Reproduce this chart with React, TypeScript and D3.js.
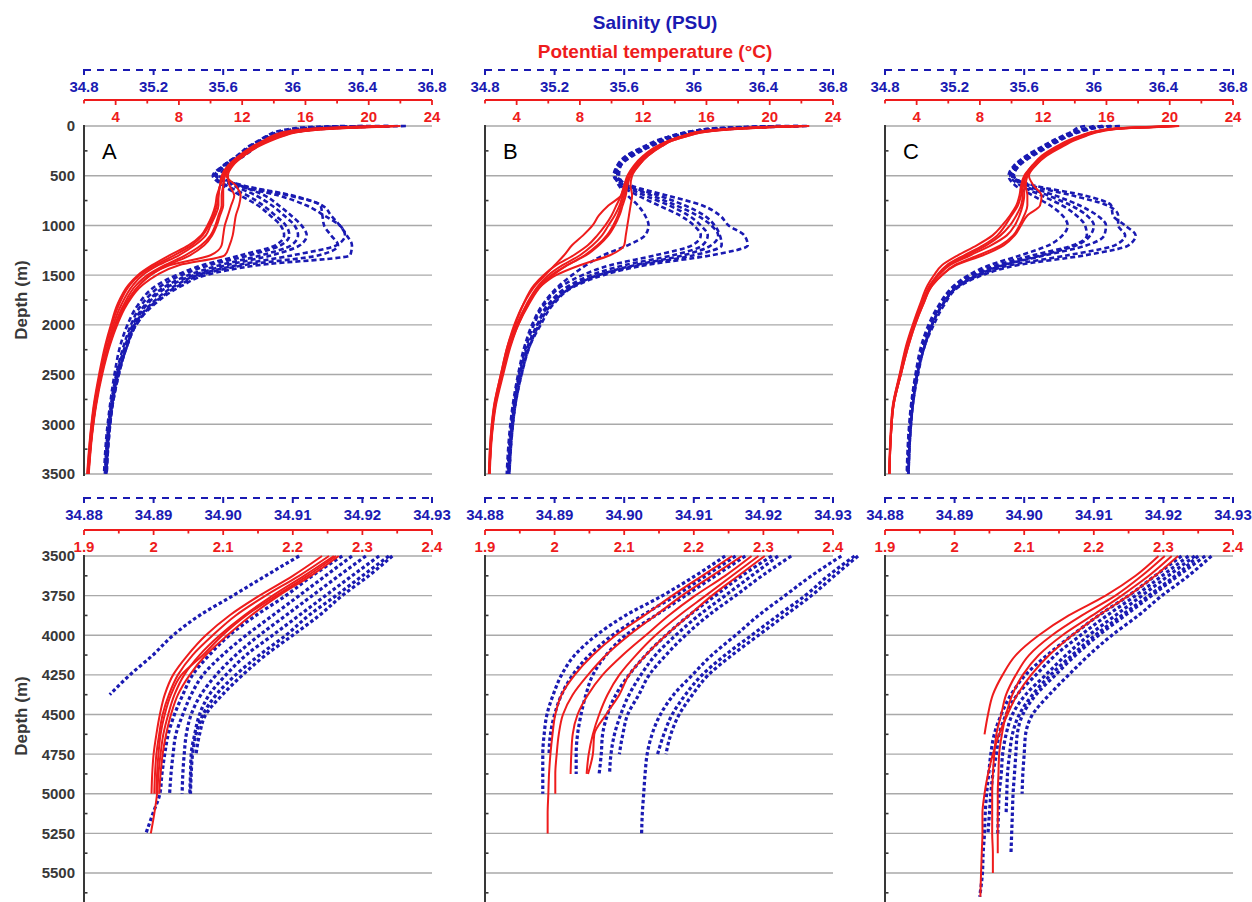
import React from "react";
import * as d3 from "d3";

// ---------------- DATA ----------------
// Upper panels (0-3500 m): shared depth grid (m)
const DEPTH_UPPER = [0, 10, 25, 50, 100, 150, 200, 300, 400, 500, 600, 700, 800, 900, 1000, 1100, 1200, 1300, 1400, 1500, 1600, 1800, 2000, 2200, 2500, 2800, 3100, 3500];
// Lower panels (3500 m - bottom): shared depth grid (m); profiles stop where the cast ended
const DEPTH_LOWER = [3500, 3625, 3750, 3875, 4000, 4125, 4250, 4375, 4500, 4625, 4750, 4875, 5000, 5125, 5250, 5375, 5500, 5650];

// Potential temperature (°C), upper panels
const THETA_A_UPPER = [
  [21.8, 20.2, 17.8, 15.9, 14.5, 13.7, 13.0, 12.0, 11.2, 10.8, 10.6, 10.5, 10.4, 10.2, 9.9, 9.5, 8.8, 7.7, 6.5, 5.5, 4.9, 4.2, 3.75, 3.4, 3.0, 2.65, 2.42, 2.22],
  [21.5, 19.6, 17.2, 15.5, 14.2, 13.4, 12.8, 11.9, 11.1, 10.7, 10.6, 10.5, 10.5, 10.3, 10.0, 9.7, 9.0, 8.0, 6.7, 5.7, 5.1, 4.35, 3.85, 3.5, 3.05, 2.7, 2.45, 2.25],
  [21.0, 19.0, 16.8, 15.3, 14.1, 13.5, 12.9, 12.0, 11.3, 10.9, 10.8, 10.7, 10.7, 10.5, 10.3, 10.0, 9.4, 8.4, 7.1, 6.0, 5.3, 4.5, 3.95, 3.55, 3.1, 2.72, 2.48, 2.27],
  [22.0, 20.5, 18.0, 16.0, 14.6, 13.8, 13.1, 12.1, 11.3, 10.9, 10.8, 10.8, 10.8, 10.6, 10.4, 10.1, 9.6, 8.7, 7.3, 6.2, 5.5, 4.6, 4.0, 3.6, 3.1, 2.75, 2.5, 2.28],
  [20.5, 18.5, 16.5, 15.0, 13.9, 13.3, 12.7, 11.8, 11.1, 10.8, 10.6, 10.4, 10.3, 10.1, 9.8, 9.4, 8.6, 7.4, 6.3, 5.4, 4.8, 4.1, 3.7, 3.35, 2.95, 2.62, 2.4, 2.2],
  [21.2, 19.8, 17.4, 15.6, 14.3, 13.5, 12.9, 12.0, 11.3, 11.0, 11.6, 11.9, 11.8, 11.6, 11.5, 11.4, 11.2, 10.9, 8.0, 6.6, 5.7, 4.7, 4.1, 3.65, 3.15, 2.78, 2.52, 2.3],
  [21.6, 20.0, 17.6, 15.8, 14.4, 13.6, 13.0, 12.1, 11.4, 11.1, 11.2, 11.5, 11.3, 11.1, 10.9, 10.8, 10.7, 10.0, 7.4, 6.2, 5.5, 4.6, 4.05, 3.6, 3.1, 2.75, 2.5, 2.28],
];
const THETA_B_UPPER = [
  [22.5, 20.5, 18.5, 16.4, 14.8, 13.8, 13.2, 12.3, 11.7, 11.2, 10.9, 10.7, 10.5, 10.2, 9.8, 9.4, 8.8, 8.0, 6.9, 6.0, 5.4, 4.6, 4.0, 3.55, 3.1, 2.65, 2.42, 2.28],
  [22.0, 20.0, 18.0, 16.0, 14.6, 13.6, 13.0, 12.1, 11.5, 11.1, 10.8, 10.6, 10.3, 10.0, 9.6, 9.1, 8.5, 7.6, 6.5, 5.7, 5.1, 4.4, 3.9, 3.45, 3.0, 2.6, 2.38, 2.25],
  [21.5, 19.5, 17.8, 15.9, 14.5, 13.6, 13.0, 12.2, 11.6, 11.2, 11.0, 10.9, 10.7, 10.5, 10.2, 9.8, 9.2, 8.4, 7.2, 6.2, 5.5, 4.7, 4.05, 3.6, 3.1, 2.65, 2.42, 2.28],
  [22.2, 20.2, 18.2, 16.1, 14.6, 13.6, 12.9, 12.0, 11.4, 11.0, 10.8, 10.6, 9.8, 9.2, 8.8, 8.2, 7.5, 7.0, 6.4, 5.8, 5.2, 4.4, 3.85, 3.45, 3.0, 2.58, 2.37, 2.24],
  [22.4, 20.3, 18.4, 16.3, 14.8, 13.8, 13.2, 12.3, 11.7, 11.3, 11.2, 11.3, 11.2, 11.1, 11.0, 10.9, 10.8, 9.9, 8.0, 6.5, 5.6, 4.7, 4.1, 3.6, 3.1, 2.66, 2.43, 2.28],
  [21.8, 19.8, 17.9, 15.9, 14.5, 13.6, 13.0, 12.1, 11.5, 11.1, 10.9, 10.8, 10.6, 10.4, 10.1, 9.7, 9.1, 8.3, 7.2, 6.3, 5.6, 4.75, 4.1, 3.65, 3.15, 2.7, 2.45, 2.3],
];
const THETA_C_UPPER = [
  [20.5, 19.2, 17.0, 15.7, 14.6, 13.8, 13.2, 12.1, 11.4, 10.9, 10.7, 10.6, 10.4, 10.0, 9.6, 9.1, 8.2, 7.0, 5.9, 5.3, 4.85, 4.3, 3.8, 3.4, 2.95, 2.52, 2.37, 2.27],
  [20.2, 18.8, 16.6, 15.5, 14.4, 13.6, 13.0, 12.0, 11.3, 10.9, 10.8, 10.8, 10.7, 10.5, 10.2, 9.7, 8.7, 7.4, 6.1, 5.4, 4.9, 4.35, 3.85, 3.45, 3.0, 2.55, 2.38, 2.28],
  [20.4, 19.0, 16.9, 15.6, 14.5, 13.7, 13.1, 12.1, 11.5, 11.0, 10.9, 11.0, 11.0, 10.8, 10.5, 10.1, 9.3, 7.9, 6.4, 5.6, 5.0, 4.4, 3.9, 3.5, 3.0, 2.55, 2.38, 2.28],
  [20.6, 19.3, 17.1, 15.8, 14.7, 13.9, 13.3, 12.2, 11.5, 11.1, 11.4, 11.9, 11.8, 11.0, 10.6, 10.2, 9.5, 8.2, 6.5, 5.6, 5.0, 4.4, 3.9, 3.5, 3.0, 2.55, 2.38, 2.28],
  [20.0, 18.5, 16.5, 15.4, 14.3, 13.5, 12.9, 11.9, 11.3, 10.8, 10.6, 10.5, 10.3, 9.9, 9.4, 8.8, 7.8, 6.6, 5.6, 5.1, 4.7, 4.2, 3.75, 3.35, 2.92, 2.5, 2.35, 2.26],
  [20.3, 18.9, 16.7, 15.5, 14.4, 13.7, 13.1, 12.1, 11.4, 10.9, 10.7, 10.7, 10.6, 10.3, 9.9, 9.3, 8.4, 7.2, 6.0, 5.35, 4.85, 4.3, 3.8, 3.4, 2.95, 2.52, 2.37, 2.27],
];

// Salinity (PSU), upper panels
const SAL_A_UPPER = [
  [36.55, 36.35, 36.15, 36.0, 35.88, 35.83, 35.78, 35.70, 35.61, 35.55, 35.62, 35.74, 35.83, 35.90, 35.96, 35.98, 35.93, 35.75, 35.52, 35.36, 35.25, 35.13, 35.07, 35.03, 34.985, 34.955, 34.935, 34.92],
  [36.45, 36.2, 36.05, 35.95, 35.86, 35.81, 35.76, 35.69, 35.60, 35.56, 35.66, 35.79, 35.88, 35.95, 36.01, 36.03, 35.99, 35.82, 35.58, 35.40, 35.28, 35.15, 35.08, 35.04, 34.99, 34.96, 34.94, 34.925],
  [36.65, 36.4, 36.2, 36.05, 35.91, 35.85, 35.8, 35.72, 35.63, 35.58, 35.70, 35.84, 35.92, 35.99, 36.05, 36.08, 36.04, 35.88, 35.62, 35.43, 35.30, 35.16, 35.09, 35.04, 34.99, 34.96, 34.94, 34.925],
  [36.3, 36.1, 36.0, 35.92, 35.85, 35.8, 35.75, 35.68, 35.60, 35.54, 35.60, 35.70, 35.80, 35.87, 35.93, 35.95, 35.90, 35.70, 35.48, 35.33, 35.22, 35.11, 35.05, 35.01, 34.975, 34.95, 34.93, 34.915],
  [36.5, 36.3, 36.12, 36.0, 35.88, 35.82, 35.77, 35.69, 35.6, 35.56, 35.72, 36.0, 36.17, 36.22, 36.27, 36.31, 36.34, 36.33, 35.8, 35.5, 35.37, 35.2, 35.1, 35.05, 35.0, 34.965, 34.945, 34.93],
  [36.55, 36.35, 36.15, 36.02, 35.89, 35.83, 35.78, 35.70, 35.61, 35.56, 35.68, 35.92, 36.08, 36.18, 36.27, 36.3, 36.25, 36.0, 35.68, 35.45, 35.33, 35.18, 35.09, 35.05, 34.995, 34.962, 34.942, 34.928],
  [36.4, 36.2, 36.05, 35.96, 35.86, 35.81, 35.76, 35.68, 35.6, 35.56, 35.7, 35.98, 36.16, 36.17, 36.18, 36.22, 36.26, 36.15, 35.72, 35.47, 35.35, 35.19, 35.1, 35.05, 35.0, 34.965, 34.945, 34.93],
];
const SAL_B_UPPER = [
  [36.6, 36.4, 36.2, 36.05, 35.9, 35.82, 35.75, 35.63, 35.57, 35.55, 35.58, 35.68, 35.80, 35.92, 36.0, 36.04, 35.99, 35.78, 35.52, 35.36, 35.25, 35.14, 35.08, 35.04, 34.995, 34.965, 34.945, 34.93],
  [36.5, 36.3, 36.1, 36.0, 35.87, 35.79, 35.73, 35.62, 35.56, 35.54, 35.60, 35.72, 35.86, 35.97, 36.04, 36.08, 36.05, 35.88, 35.60, 35.41, 35.29, 35.16, 35.1, 35.05, 35.0, 34.97, 34.95, 34.935],
  [36.65, 36.45, 36.25, 36.08, 35.92, 35.83, 35.76, 35.65, 35.58, 35.57, 35.62, 35.76, 35.90, 36.02, 36.1, 36.14, 36.1, 35.94, 35.66, 35.45, 35.32, 35.18, 35.11, 35.06, 35.01, 34.975, 34.955, 34.94],
  [36.55, 36.35, 36.15, 36.02, 35.89, 35.8, 35.74, 35.63, 35.57, 35.56, 35.64, 35.85, 36.05, 36.15, 36.2, 36.29, 36.31, 36.1, 35.72, 35.48, 35.33, 35.19, 35.12, 35.06, 35.01, 34.975, 34.955, 34.94],
  [36.5, 36.3, 36.12, 36.0, 35.87, 35.78, 35.72, 35.61, 35.56, 35.55, 35.57, 35.62, 35.68, 35.72, 35.74, 35.72, 35.62, 35.48, 35.38, 35.3, 35.23, 35.13, 35.07, 35.03, 34.99, 34.96, 34.94, 34.925],
  [36.6, 36.38, 36.18, 36.03, 35.89, 35.81, 35.75, 35.64, 35.58, 35.56, 35.62, 35.80, 35.95, 36.06, 36.12, 36.15, 36.16, 36.0, 35.68, 35.45, 35.31, 35.17, 35.1, 35.05, 35.0, 34.97, 34.95, 34.935],
];
const SAL_C_UPPER = [
  [36.0, 35.98, 35.95, 35.9, 35.83, 35.77, 35.72, 35.62, 35.55, 35.52, 35.58, 35.70, 35.82, 35.9, 35.95, 35.96, 35.88, 35.65, 35.44, 35.3, 35.21, 35.12, 35.06, 35.02, 34.98, 34.955, 34.94, 34.93],
  [36.1, 36.02, 35.98, 35.93, 35.85, 35.79, 35.74, 35.64, 35.57, 35.54, 35.62, 35.78, 35.92, 36.02, 36.07, 36.06, 35.96, 35.72, 35.48, 35.33, 35.23, 35.13, 35.07, 35.03, 34.985, 34.96, 34.945, 34.935],
  [35.95, 35.92, 35.9, 35.88, 35.82, 35.76, 35.71, 35.61, 35.54, 35.51, 35.55, 35.65, 35.75, 35.82, 35.85, 35.82, 35.74, 35.58, 35.40, 35.28, 35.2, 35.11, 35.05, 35.01, 34.975, 34.95, 34.935, 34.925],
  [36.05, 36.0, 35.97, 35.92, 35.84, 35.78, 35.73, 35.63, 35.56, 35.53, 35.66, 35.95, 36.1, 36.11, 36.18, 36.24, 36.2, 35.95, 35.56, 35.36, 35.24, 35.14, 35.08, 35.03, 34.99, 34.96, 34.945, 34.935],
  [36.15, 36.05, 36.0, 35.94, 35.86, 35.8, 35.75, 35.65, 35.57, 35.54, 35.64, 35.88, 36.08, 36.14, 36.14, 36.18, 36.12, 35.85, 35.52, 35.34, 35.23, 35.13, 35.07, 35.03, 34.985, 34.96, 34.945, 34.935],
  [36.05, 36.0, 35.96, 35.91, 35.84, 35.78, 35.73, 35.63, 35.56, 35.53, 35.6, 35.74, 35.87, 35.96, 36.0, 35.98, 35.9, 35.7, 35.47, 35.32, 35.22, 35.12, 35.065, 35.025, 34.98, 34.955, 34.94, 34.93],
];

// Potential temperature (°C), lower panels
const THETA_A_LOWER = [
  [2.242, 2.200, 2.152, 2.109, 2.075, 2.049, 2.028, 2.016, 2.009, 2.004, 2.000, 1.998, 1.997],
  [2.252, 2.209, 2.161, 2.118, 2.085, 2.056, 2.035, 2.022, 2.013, 2.008, 2.004, 2.002, 2.001],
  [2.259, 2.216, 2.171, 2.130, 2.095, 2.066, 2.044, 2.030, 2.021, 2.014, 2.010, 2.007, 2.005, 2.001, 1.996],
  [2.266, 2.226, 2.180, 2.140, 2.106, 2.075, 2.052, 2.035, 2.025, 2.018, 2.013, 2.010, 2.008],
  [2.262, 2.221, 2.176, 2.133, 2.099, 2.071, 2.040, 2.025, 2.016, 2.010, 2.007, 2.005, 2.004],
];
const THETA_B_LOWER = [
  [2.255, 2.212, 2.169, 2.129, 2.088, 2.055, 2.029, 2.010, 2.001, 1.997, 1.994, 1.992, 1.991, 1.990, 1.990],
  [2.269, 2.226, 2.183, 2.145, 2.107, 2.074, 2.048, 2.026, 2.012, 2.006, 2.003, 2.001, 2.001],
  [2.283, 2.245, 2.202, 2.164, 2.131, 2.098, 2.069, 2.048, 2.033, 2.026, 2.024, 2.023],
  [2.293, 2.255, 2.217, 2.179, 2.145, 2.117, 2.093, 2.076, 2.064, 2.055, 2.049, 2.046],
  [2.302, 2.264, 2.226, 2.193, 2.160, 2.131, 2.107, 2.093, 2.074, 2.057, 2.055, 2.048],
];
const THETA_C_LOWER = [
  [2.293, 2.260, 2.217, 2.164, 2.121, 2.088, 2.069, 2.055, 2.048, 2.043],
  [2.302, 2.269, 2.231, 2.183, 2.140, 2.107, 2.088, 2.074, 2.067, 2.060, 2.057, 2.055, 2.054, 2.054, 2.054, 2.055, 2.055],
  [2.312, 2.279, 2.240, 2.198, 2.155, 2.121, 2.098, 2.083, 2.074, 2.068, 2.064, 2.063, 2.062, 2.062, 2.062, 2.062],
  [2.321, 2.288, 2.250, 2.207, 2.169, 2.136, 2.110, 2.090, 2.076, 2.064, 2.055, 2.048, 2.043, 2.040, 2.040, 2.039, 2.038, 2.037],
];

// Salinity (PSU), lower panels
const SAL_A_LOWER = [
  [34.9109, 34.9061, 34.9014, 34.8966, 34.8928, 34.8899, 34.8866, 34.8837],
  [34.9171, 34.9128, 34.9090, 34.9047, 34.9009, 34.8980, 34.8956, 34.8942, 34.8930, 34.8921, 34.8916, 34.8912, 34.8909, 34.8899, 34.8889],
  [34.9185, 34.9147, 34.9109, 34.9071, 34.9033, 34.8999, 34.8971, 34.8954, 34.8942, 34.8932, 34.8928, 34.8925, 34.8923],
  [34.9205, 34.9166, 34.9128, 34.9090, 34.9052, 34.9018, 34.8990, 34.8968, 34.8954, 34.8947, 34.8944, 34.8942, 34.8941],
  [34.9224, 34.9185, 34.9147, 34.9109, 34.9071, 34.9033, 34.9004, 34.8980, 34.8966, 34.8959, 34.8954, 34.8953, 34.8952],
  [34.9238, 34.9200, 34.9162, 34.9123, 34.9090, 34.9052, 34.9018, 34.8990, 34.8971, 34.8961, 34.8956, 34.8954, 34.8953],
  [34.9243, 34.9209, 34.9171, 34.9138, 34.9100, 34.9061, 34.9028, 34.8999, 34.8975, 34.8966, 34.8961],
];
const SAL_B_LOWER = [
  [34.9145, 34.9102, 34.9055, 34.9002, 34.8960, 34.8929, 34.8910, 34.8898, 34.8889, 34.8885, 34.8883, 34.8883, 34.8883],
  [34.9160, 34.9117, 34.9074, 34.9026, 34.8983, 34.8950, 34.8926, 34.8910, 34.8900, 34.8894, 34.8892],
  [34.9174, 34.9131, 34.9088, 34.9045, 34.9002, 34.8974, 34.8955, 34.8945, 34.8938, 34.8933, 34.8931, 34.8931],
  [34.9221, 34.9183, 34.9145, 34.9107, 34.9074, 34.9045, 34.9024, 34.9007, 34.8995, 34.8986, 34.8981, 34.8979],
  [34.9212, 34.9169, 34.9131, 34.9093, 34.9060, 34.9031, 34.9007, 34.8988, 34.8976, 34.8969, 34.8967, 34.8964],
  [34.9240, 34.9198, 34.9160, 34.9121, 34.9088, 34.9060, 34.9036, 34.9021, 34.9005, 34.8998, 34.8993],
  [34.9312, 34.9269, 34.9231, 34.9193, 34.9160, 34.9126, 34.9098, 34.9071, 34.9052, 34.9040, 34.9033, 34.9030, 34.9028, 34.9026, 34.9025],
  [34.9331, 34.9293, 34.9260, 34.9221, 34.9183, 34.9145, 34.9112, 34.9088, 34.9069, 34.9057, 34.9048],
  [34.9336, 34.9302, 34.9269, 34.9231, 34.9193, 34.9155, 34.9121, 34.9098, 34.9079, 34.9067, 34.9060],
];
const SAL_C_LOWER = [
  [34.9269, 34.9236, 34.9198, 34.9164, 34.9126, 34.9093, 34.9064, 34.9036, 34.9012, 34.9002, 34.9000, 34.8998, 34.8997],
  [34.9260, 34.9221, 34.9183, 34.9145, 34.9107, 34.9074, 34.9045, 34.9017, 34.8998, 34.8990, 34.8988, 34.8986, 34.8984, 34.8983, 34.8982, 34.8981],
  [34.9245, 34.9207, 34.9169, 34.9131, 34.9093, 34.9060, 34.9031, 34.9002, 34.8983, 34.8974, 34.8969, 34.8967, 34.8964, 34.8963, 34.8962],
  [34.9236, 34.9198, 34.9160, 34.9119, 34.9081, 34.9045, 34.9017, 34.8990, 34.8974, 34.8964, 34.8960, 34.8955, 34.8952, 34.8950, 34.8948],
  [34.9226, 34.9188, 34.9150, 34.9107, 34.9069, 34.9033, 34.9002, 34.8981, 34.8967, 34.8957, 34.8952, 34.8949, 34.8946, 34.8944, 34.8943, 34.8941, 34.8940, 34.8936],
  [34.9250, 34.9217, 34.9179, 34.9140, 34.9102, 34.9069, 34.9038, 34.9012, 34.8993, 34.8983, 34.8979, 34.8976, 34.8975, 34.8974],
];

// Axis ticks / labels
const SAL_TICKS_UPPER = [34.8, 35.2, 35.6, 36.0, 36.4, 36.8];
const SAL_LABELS_UPPER = ["34.8", "35.2", "35.6", "36", "36.4", "36.8"];
const THETA_TICKS_UPPER = [2, 4, 6, 8, 10, 12, 14, 16, 18, 20, 22, 24];
const THETA_LABEL_TICKS_UPPER = [4, 8, 12, 16, 20, 24];
const THETA_LABELS_UPPER = ["4", "8", "12", "16", "20", "24"];
const SAL_TICKS_LOWER = [34.88, 34.89, 34.9, 34.91, 34.92, 34.93];
const SAL_LABELS_LOWER = ["34.88", "34.89", "34.90", "34.91", "34.92", "34.93"];
const THETA_TICKS_LOWER = [1.9, 1.95, 2.0, 2.05, 2.1, 2.15, 2.2, 2.25, 2.3, 2.35, 2.4];
const THETA_LABEL_TICKS_LOWER = [1.9, 2.0, 2.1, 2.2, 2.3, 2.4];
const THETA_LABELS_LOWER = ["1.9", "2", "2.1", "2.2", "2.3", "2.4"];
const DEPTH_TICKS_UPPER = [0, 500, 1000, 1500, 2000, 2500, 3000, 3500];
const DEPTH_MINOR_UPPER = [250, 750, 1250, 1750, 2250, 2750, 3250];
const DEPTH_TICKS_LOWER = [3500, 3750, 4000, 4250, 4500, 4750, 5000, 5250, 5500];
const DEPTH_MINOR_LOWER = [3625, 3875, 4125, 4375, 4625, 4875, 5125, 5375, 5625];
const PANEL_LETTERS = ["A", "B", "C"];

// ---------------- STYLE / LAYOUT ----------------
const FONT = "'Liberation Sans', Arial, Helvetica, sans-serif";
const BLUE = "#1a1ab2";
const RED = "#ee1c1c";
const GRID = "#a9a9a9";
const AXIS = "#383838";
const PANEL_X = [84, 485, 885];
const PANEL_W = 348;

type RowSpec = {
  depths: number[];
  depthDomain: [number, number];
  depthRange: [number, number];
  axisEnd: number;
  salY: number;
  thetaY: number;
  salDomain: [number, number];
  thetaDomain: [number, number];
  salTicks: number[];
  salLabels: string[];
  thetaTicks: number[];
  thetaLabelTicks: number[];
  thetaLabels: string[];
  depthTicks: number[];
  depthMinor: number[];
  theta: number[][][];
  sal: number[][][];
  dash: string;
  blueWidth: number;
  letters: boolean;
  depthTitleY: number;
};

const ROWS: RowSpec[] = [
  {
    depths: DEPTH_UPPER,
    depthDomain: [0, 3500],
    depthRange: [126, 474],
    axisEnd: 476,
    salY: 70,
    thetaY: 100,
    salDomain: [34.8, 36.8],
    thetaDomain: [2, 24],
    salTicks: SAL_TICKS_UPPER,
    salLabels: SAL_LABELS_UPPER,
    thetaTicks: THETA_TICKS_UPPER,
    thetaLabelTicks: THETA_LABEL_TICKS_UPPER,
    thetaLabels: THETA_LABELS_UPPER,
    depthTicks: DEPTH_TICKS_UPPER,
    depthMinor: DEPTH_MINOR_UPPER,
    theta: [THETA_A_UPPER, THETA_B_UPPER, THETA_C_UPPER],
    sal: [SAL_A_UPPER, SAL_B_UPPER, SAL_C_UPPER],
    dash: "5 3",
    blueWidth: 2.6,
    letters: true,
    depthTitleY: 300,
  },
  {
    depths: DEPTH_LOWER,
    depthDomain: [3500, 5500],
    depthRange: [556, 873],
    axisEnd: 902,
    salY: 498,
    thetaY: 530,
    salDomain: [34.88, 34.93],
    thetaDomain: [1.9, 2.4],
    salTicks: SAL_TICKS_LOWER,
    salLabels: SAL_LABELS_LOWER,
    thetaTicks: THETA_TICKS_LOWER,
    thetaLabelTicks: THETA_LABEL_TICKS_LOWER,
    thetaLabels: THETA_LABELS_LOWER,
    depthTicks: DEPTH_TICKS_LOWER,
    depthMinor: DEPTH_MINOR_LOWER,
    theta: [THETA_A_LOWER, THETA_B_LOWER, THETA_C_LOWER],
    sal: [SAL_A_LOWER, SAL_B_LOWER, SAL_C_LOWER],
    dash: "3.5 2.5",
    blueWidth: 3.2,
    letters: false,
    depthTitleY: 716,
  },
];

function Panel({ row, col }: { row: RowSpec; col: number }) {
  const x0 = PANEL_X[col];
  const x1 = x0 + PANEL_W;
  const ys = d3.scaleLinear().domain(row.depthDomain).range(row.depthRange);
  const xsSal = d3.scaleLinear().domain(row.salDomain).range([x0, x1]);
  const xsTheta = d3.scaleLinear().domain(row.thetaDomain).range([x0, x1]);

  const mkLine = (xs: d3.ScaleLinear<number, number>) =>
    d3
      .line<[number, number]>()
      .x((d) => xs(d[1]))
      .y((d) => ys(d[0]))
      .curve(d3.curveMonotoneY);
  const salLine = mkLine(xsSal);
  const thetaLine = mkLine(xsTheta);
  const toPts = (vals: number[]) => vals.map((v, i) => [row.depths[i], v] as [number, number]);

  return (
    <g>
      {row.depthTicks.map((d) => (
        <line key={"g" + d} x1={x0} x2={x1} y1={ys(d)} y2={ys(d)} stroke={GRID} strokeWidth={1.4} />
      ))}
      <line x1={x0} x2={x0} y1={row.depthRange[0] - 1} y2={row.axisEnd} stroke={AXIS} strokeWidth={2} />
      {row.depthMinor.map((d) => (
        <line key={"m" + d} x1={x0} x2={x0 + 3.5} y1={ys(d)} y2={ys(d)} stroke={AXIS} strokeWidth={1.6} />
      ))}
      {col === 0 &&
        row.depthTicks.map((d) => (
          <text
            key={"dl" + d}
            x={x0 - 9}
            y={ys(d)}
            dy="0.36em"
            textAnchor="end"
            fontFamily={FONT}
            fontWeight="bold"
            fontSize={15}
            fill={AXIS}
          >
            {d}
          </text>
        ))}
      <line x1={x0} x2={x1} y1={row.salY} y2={row.salY} stroke={BLUE} strokeWidth={2} strokeDasharray="7 6" />
      {row.salTicks.map((t, i) => (
        <g key={"st" + i}>
          <line x1={xsSal(t)} x2={xsSal(t)} y1={row.salY - 1} y2={row.salY + 5} stroke={BLUE} strokeWidth={2} />
          <text
            x={xsSal(t)}
            y={row.salY + 22}
            textAnchor="middle"
            fontFamily={FONT}
            fontWeight="bold"
            fontSize={15}
            fill={BLUE}
          >
            {row.salLabels[i]}
          </text>
        </g>
      ))}
      <line x1={x0} x2={x1} y1={row.thetaY} y2={row.thetaY} stroke={RED} strokeWidth={2} />
      {row.thetaTicks.map((t, i) => {
        const major = row.thetaLabelTicks.some((m) => Math.abs(m - t) < 1e-9);
        return (
          <line
            key={"tt" + i}
            x1={xsTheta(t)}
            x2={xsTheta(t)}
            y1={row.thetaY}
            y2={row.thetaY + (major ? 5 : 3.5)}
            stroke={RED}
            strokeWidth={1.8}
          />
        );
      })}
      {row.thetaLabelTicks.map((t, i) => (
        <text
          key={"tl" + i}
          x={xsTheta(t)}
          y={row.thetaY + 22}
          textAnchor="middle"
          fontFamily={FONT}
          fontWeight="bold"
          fontSize={15}
          fill={RED}
        >
          {row.thetaLabels[i]}
        </text>
      ))}
      {row.sal[col].map((p, i) => (
        <path
          key={"sp" + i}
          d={salLine(toPts(p)) || ""}
          fill="none"
          stroke={BLUE}
          strokeWidth={row.blueWidth}
          strokeDasharray={row.dash}
        />
      ))}
      {row.theta[col].map((p, i) => (
        <path key={"tp" + i} d={thetaLine(toPts(p)) || ""} fill="none" stroke={RED} strokeWidth={2} />
      ))}
      {row.letters && (
        <text x={x0 + 18} y={159} fontFamily={FONT} fontSize={22} fill="#000">
          {PANEL_LETTERS[col]}
        </text>
      )}
    </g>
  );
}

export default function App() {
  return (
    <svg
      width={1252}
      height={902}
      viewBox="0 0 1252 902"
      style={{ position: "absolute", left: 0, top: 0, background: "#fff" }}
    >
      <rect x={0} y={0} width={1252} height={902} fill="#fff" />
      <text x={655} y={29} textAnchor="middle" fontFamily={FONT} fontWeight="bold" fontSize={19} fill={BLUE}>
        Salinity (PSU)
      </text>
      <text x={655} y={58} textAnchor="middle" fontFamily={FONT} fontWeight="bold" fontSize={19} fill={RED}>
        Potential temperature (°C)
      </text>
      {ROWS.map((row, r) => (
        <g key={"r" + r}>
          {[0, 1, 2].map((c) => (
            <Panel key={"p" + c} row={row} col={c} />
          ))}
          <text
            transform={`translate(21,${row.depthTitleY}) rotate(-90)`}
            textAnchor="middle"
            dy="0.35em"
            fontFamily={FONT}
            fontWeight="bold"
            fontSize={17}
            fill={AXIS}
          >
            Depth (m)
          </text>
        </g>
      ))}
    </svg>
  );
}
